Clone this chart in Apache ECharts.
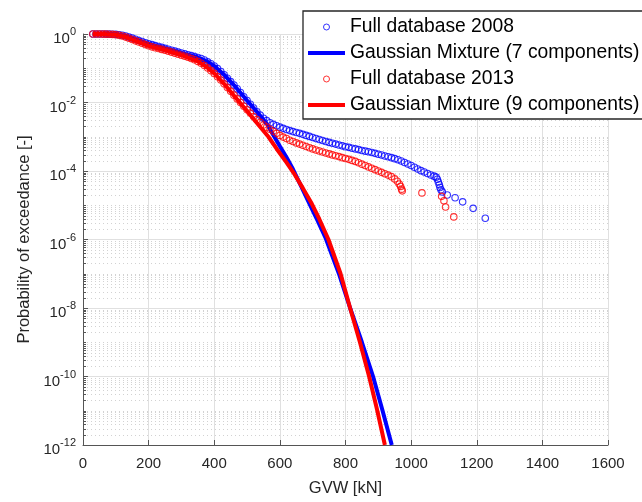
<!DOCTYPE html>
<html><head><meta charset="utf-8">
<script src="https://cdn.jsdelivr.net/npm/echarts@6/dist/echarts.min.js"></script>
<style>html,body{margin:0;padding:0;background:#fff}#c{width:642px;height:502px}</style>
</head><body><div id="c"></div><script>
// [GVW kN, log10(probability of exceedance)]
const data2008Log = [[30,0],[40,0],[50,0],[60,0],[70,-0.003],[80,-0.005],[90,-0.008],[100,-0.012],[110,-0.02],[120,-0.035],[130,-0.06],[140,-0.09],[150,-0.12],[160,-0.155],[170,-0.19],[180,-0.22],[190,-0.255],[200,-0.285],[210,-0.31],[220,-0.34],[230,-0.365],[240,-0.39],[250,-0.42],[260,-0.445],[270,-0.475],[280,-0.5],[290,-0.53],[300,-0.555],[310,-0.58],[320,-0.605],[330,-0.63],[340,-0.66],[350,-0.685],[360,-0.715],[370,-0.76],[380,-0.815],[390,-0.87],[400,-0.935],[410,-1.01],[420,-1.095],[430,-1.19],[440,-1.29],[450,-1.39],[460,-1.49],[470,-1.6],[480,-1.71],[490,-1.83],[500,-1.94],[510,-2.05],[520,-2.16],[530,-2.27],[540,-2.37],[550,-2.46],[560,-2.53],[570,-2.59],[580,-2.64],[590,-2.68],[600,-2.72],[610,-2.755],[620,-2.79],[630,-2.82],[640,-2.85],[650,-2.875],[660,-2.9],[670,-2.93],[680,-2.96],[690,-2.99],[700,-3.02],[710,-3.05],[720,-3.08],[730,-3.11],[740,-3.14],[750,-3.165],[760,-3.19],[770,-3.215],[780,-3.24],[790,-3.265],[800,-3.29],[810,-3.31],[820,-3.335],[830,-3.355],[840,-3.375],[850,-3.4],[860,-3.42],[870,-3.44],[880,-3.46],[890,-3.485],[900,-3.51],[910,-3.535],[920,-3.56],[930,-3.585],[940,-3.61],[950,-3.64],[960,-3.67],[970,-3.71],[980,-3.75],[990,-3.795],[1000,-3.84],[1010,-3.89],[1020,-3.94],[1030,-3.99],[1040,-4.03],[1050,-4.075],[1060,-4.115],[1070,-4.15],[1076,-4.18],[1080,-4.24],[1083,-4.32],[1086,-4.4],[1088,-4.48],[1091,-4.55],[1095,-4.61],[1110,-4.7],[1134,-4.78],[1157,-4.9],[1189,-5.09],[1226,-5.38]];
const data2013Log = [[30,0],[40,0],[50,0],[60,-0.003],[70,-0.005],[80,-0.008],[90,-0.012],[100,-0.02],[110,-0.035],[120,-0.06],[130,-0.09],[140,-0.125],[150,-0.16],[160,-0.2],[170,-0.235],[180,-0.27],[190,-0.31],[200,-0.345],[210,-0.375],[220,-0.4],[230,-0.425],[240,-0.45],[250,-0.475],[260,-0.5],[270,-0.53],[280,-0.56],[290,-0.59],[300,-0.62],[310,-0.65],[320,-0.68],[330,-0.715],[340,-0.75],[350,-0.8],[360,-0.855],[370,-0.92],[380,-0.99],[390,-1.07],[400,-1.15],[410,-1.245],[420,-1.345],[430,-1.455],[440,-1.565],[450,-1.675],[460,-1.785],[470,-1.895],[480,-2.0],[490,-2.11],[500,-2.21],[510,-2.31],[520,-2.41],[530,-2.5],[540,-2.58],[550,-2.655],[560,-2.72],[570,-2.78],[580,-2.84],[590,-2.9],[600,-2.96],[610,-3.01],[620,-3.05],[630,-3.1],[640,-3.14],[650,-3.18],[660,-3.215],[670,-3.25],[680,-3.285],[690,-3.32],[700,-3.355],[710,-3.385],[720,-3.415],[730,-3.445],[740,-3.475],[750,-3.5],[760,-3.53],[770,-3.555],[780,-3.58],[790,-3.61],[800,-3.635],[810,-3.66],[820,-3.69],[830,-3.72],[840,-3.76],[850,-3.8],[860,-3.84],[870,-3.88],[880,-3.92],[890,-3.96],[900,-4.0],[910,-4.04],[920,-4.08],[930,-4.12],[940,-4.165],[950,-4.23],[958,-4.3],[964,-4.38],[968,-4.45],[971,-4.53],[973,-4.58],[1033,-4.64],[1093,-4.74],[1100,-4.87],[1105,-5.05],[1130,-5.34]];
const gm7X = [30,60,100,130,160,200,250,300,350,380,400,430,460,500,530,560,580,600,620,640,665,690,715,740,780,814,850,884,913,941];
const gm7Log = [0,0,-0.01,-0.06,-0.155,-0.285,-0.42,-0.555,-0.685,-0.815,-0.935,-1.19,-1.49,-1.94,-2.27,-2.62,-2.95,-3.28,-3.6,-3.95,-4.45,-4.95,-5.45,-5.97,-7.0,-8.0,-9.0,-10.0,-11.0,-12.0];
const gm9X = [30,60,100,130,160,200,250,300,350,380,400,430,460,500,530,565,590,620,645,670,697,720,748,785,814,844,872,897,920];
const gm9Log = [0,-0.003,-0.02,-0.09,-0.2,-0.345,-0.475,-0.62,-0.8,-0.99,-1.15,-1.455,-1.8,-2.25,-2.6,-3.0,-3.35,-3.75,-4.1,-4.5,-4.95,-5.4,-6.0,-7.0,-8.0,-9.0,-10.0,-11.0,-12.0];
const xTicks = [0,200,400,600,800,1000,1200,1400,1600];
const yDecades = [-12,-11,-10,-9,-8,-7,-6,-5,-4,-3,-2,-1,0];
const names = ['Full database 2008','Gaussian Mixture (7 components)','Full database 2013','Gaussian Mixture (9 components)'];

const BLUE = '#0000ff', RED = '#ff0000';
const FONT = '"Liberation Sans", Arial, Helvetica, sans-serif';
const toP = arr => arr.map(d => [d[0], Math.pow(10, d[1])]);
const zipP = (xs, ls) => xs.map((x, i) => [x, Math.pow(10, ls[i])]);

// minor log grid values: 2..9 x 10^k, and odd (unlabelled) decades
const minorVals = [];
yDecades.forEach(k => {
  if (k >= 0) return;
  if (k % 2 !== 0) minorVals.push([0, Math.pow(10, k)]);
  for (let m = 2; m <= 9; m++) minorVals.push([0, m * Math.pow(10, k)]);
});
const LINE_ICON = 'path://M0,0L37,0L37,4L0,4Z';

const chart = echarts.init(document.getElementById('c'), null, {renderer: 'canvas'});
chart.setOption({
  animation: false,
  backgroundColor: '#ffffff',
  grid: {left: 83, right: 34, top: 34, bottom: 54},
  legend: {
    orient: 'vertical', left: 303, top: 11,
    padding: [3, 14, 1, 5], itemGap: 0,
    itemWidth: 37, itemHeight: 6,
    backgroundColor: '#ffffff', borderColor: '#262626', borderWidth: 1.3,
    textStyle: {fontFamily: FONT, fontSize: 19.3, color: '#000', lineHeight: 26},
    data: [
      {name: names[0], icon: 'circle', itemStyle: {color: 'transparent', borderColor: BLUE, borderWidth: 1}},
      {name: names[1], icon: LINE_ICON, itemStyle: {color: BLUE, borderWidth: 0}},
      {name: names[2], icon: 'circle', itemStyle: {color: 'transparent', borderColor: RED, borderWidth: 1}},
      {name: names[3], icon: LINE_ICON, itemStyle: {color: RED, borderWidth: 0}}
    ]
  },
  xAxis: {
    type: 'value', min: xTicks[0], max: xTicks[xTicks.length - 1], interval: 200,
    name: 'GVW [kN]', nameLocation: 'middle', nameGap: 35,
    nameTextStyle: {fontFamily: FONT, fontSize: 16.5, color: '#262626'},
    axisLine: {show: true, lineStyle: {color: '#555', width: 1}},
    axisTick: {show: true, inside: true, length: 5, lineStyle: {color: '#555'}},
    axisLabel: {fontFamily: FONT, fontSize: 15, color: '#262626', margin: 11, formatter: v => String(v)},
    splitLine: {show: true, lineStyle: {color: '#e0e0e0', width: 1}}
  },
  yAxis: {
    type: 'log', logBase: 10, min: 1e-12, max: 1, interval: 2,
    name: 'Probability of exceedance [-]', nameLocation: 'middle', nameGap: 48,
    nameTextStyle: {fontFamily: FONT, fontSize: 16.5, color: '#262626'},
    axisLine: {show: true, lineStyle: {color: '#555', width: 1}},
    axisTick: {show: true, inside: true, length: 5, lineStyle: {color: '#555'}},
    axisLabel: {
      margin: 7, fontFamily: FONT, color: '#262626',
      formatter: v => '{b|10}{s|' + Math.round(Math.log10(v)) + '}',
      rich: {
        b: {fontFamily: FONT, fontSize: 15, color: '#262626', padding: [10, 0, 0, 0]},
        s: {fontFamily: FONT, fontSize: 11, color: '#262626', padding: [5, 0, 9, 0]}
      }
    },
    splitLine: {show: true, lineStyle: {color: '#e0e0e0', width: 1}}
  },
  series: [
    {
      type: 'custom', silent: true, z: 0,
      data: minorVals, encode: {x: 0, y: 1},
      renderItem: function (params, api) {
        const cs = params.coordSys;
        const y = Math.round(api.coord([0, api.value(1)])[1]) + 0.5;
        return {type: 'group', children: [
          {type: 'line', shape: {x1: cs.x, y1: y, x2: cs.x + cs.width, y2: y},
           style: {stroke: '#d2d2d2', lineWidth: 1, lineDash: [1, 3]}},
          {type: 'line', shape: {x1: cs.x, y1: y, x2: cs.x + 3, y2: y},
           style: {stroke: '#555', lineWidth: 1}}
        ]};
      }
    },
    {
      name: names[0], type: 'scatter', z: 2, symbol: 'circle', symbolSize: 6.5,
      itemStyle: {color: 'transparent', borderColor: BLUE, borderWidth: 1.1},
      data: toP(data2008Log)
    },
    {
      name: names[1], type: 'line', z: 3, symbol: 'none', smooth: false,
      lineStyle: {color: BLUE, width: 4}, itemStyle: {color: BLUE},
      data: zipP(gm7X, gm7Log)
    },
    {
      name: names[2], type: 'scatter', z: 4, symbol: 'circle', symbolSize: 6.5,
      itemStyle: {color: 'transparent', borderColor: RED, borderWidth: 1.1},
      data: toP(data2013Log)
    },
    {
      name: names[3], type: 'line', z: 5, symbol: 'none', smooth: false,
      lineStyle: {color: RED, width: 4}, itemStyle: {color: RED},
      data: zipP(gm9X, gm9Log)
    }
  ]
});
</script></body></html>
